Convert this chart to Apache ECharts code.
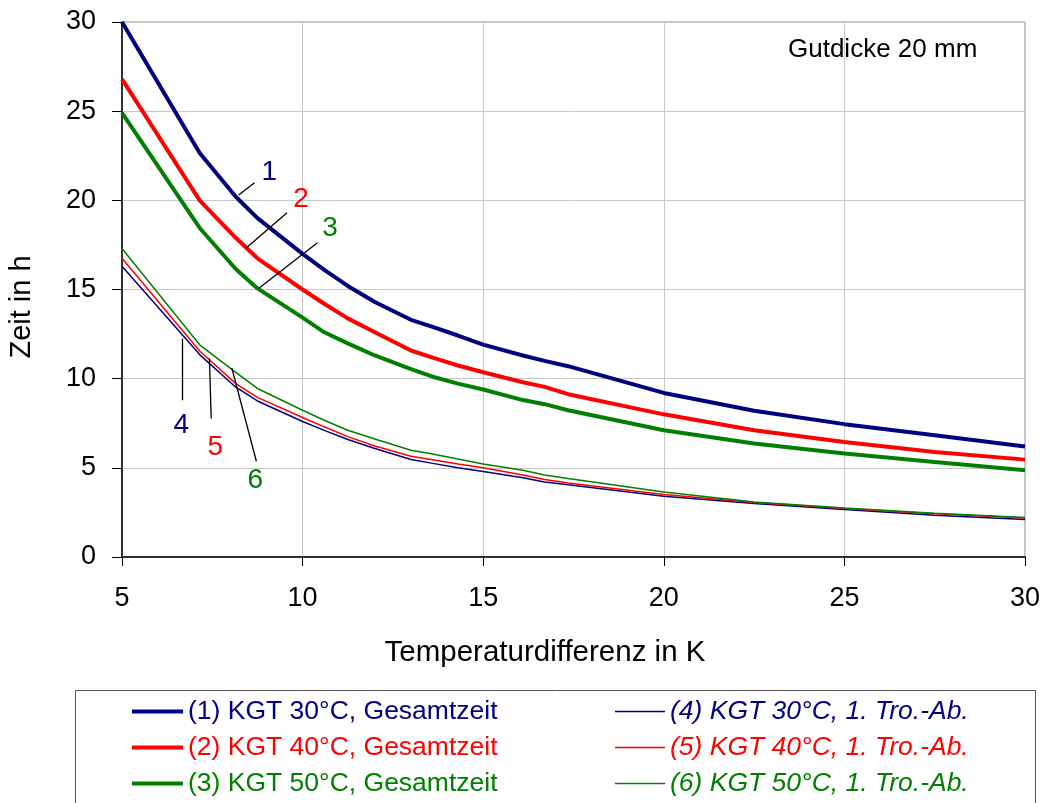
<!DOCTYPE html>
<html>
<head>
<meta charset="utf-8">
<title>Trocknungszeit über Temperaturdifferenz</title>
<script src="https://cdn.jsdelivr.net/npm/echarts@6/dist/echarts.min.js"></script>
<style>
  html, body { margin: 0; padding: 0; background: #fff; }
  #chart { width: 1046px; height: 803px; }
</style>
</head>
<body>
<div id="chart"></div>
<script>
// Temperaturdifferenz in K (shared sampling for all curves)
const tempDiff = [5, 7.15, 8.15, 8.75, 10, 10.6, 11.25, 12, 13, 13.6, 14.3, 15, 16.1, 16.7, 17.35, 20, 22.5, 25, 27.5, 30];

// Gesamtzeit in h
const kgt30Total = [30, 22.65, 20.2, 19.0, 17.0, 16.1, 15.2, 14.3, 13.3, 12.9, 12.42, 11.91, 11.3, 11.0, 10.7, 9.2, 8.2, 7.45, 6.83, 6.2];
const kgt40Total = [26.8, 20.0, 17.9, 16.75, 15.0, 14.2, 13.38, 12.6, 11.58, 11.18, 10.74, 10.36, 9.8, 9.54, 9.13, 8.0, 7.11, 6.45, 5.89, 5.46];
const kgt50Total = [24.9, 18.45, 16.15, 15.06, 13.42, 12.6, 11.98, 11.3, 10.54, 10.11, 9.72, 9.39, 8.8, 8.57, 8.23, 7.11, 6.36, 5.8, 5.33, 4.87];

// 1. Trocknungsabschnitt in h
const kgt30First = [16.3, 11.35, 9.52, 8.75, 7.6, 7.1, 6.59, 6.08, 5.47, 5.25, 5.0, 4.8, 4.45, 4.21, 4.05, 3.41, 3.0, 2.66, 2.34, 2.1];
const kgt40First = [16.75, 11.55, 9.72, 8.95, 7.82, 7.3, 6.75, 6.22, 5.65, 5.45, 5.22, 5.0, 4.6, 4.34, 4.15, 3.5, 3.06, 2.72, 2.42, 2.18];
const kgt50First = [17.3, 11.9, 10.35, 9.45, 8.23, 7.67, 7.11, 6.62, 5.99, 5.78, 5.5, 5.22, 4.87, 4.6, 4.4, 3.65, 3.09, 2.75, 2.45, 2.22];

const xTicks = [5, 10, 15, 20, 25, 30];
const yTicks = [0, 5, 10, 15, 20, 25, 30];

const seriesNames = [
  '(1) KGT 30°C, Gesamtzeit',
  '(2) KGT 40°C, Gesamtzeit',
  '(3) KGT 50°C, Gesamtzeit',
  '(4) KGT 30°C, 1. Tro.-Ab.',
  '(5) KGT 40°C, 1. Tro.-Ab.',
  '(6) KGT 50°C, 1. Tro.-Ab.'
];
const seriesValues = [kgt30Total, kgt40Total, kgt50Total, kgt30First, kgt40First, kgt50First];
const seriesColors = ['#000080', '#ff0000', '#008000', '#000080', '#ff0000', '#008000'];

// Callout numbers: label position and leader line (data coordinates)
const calloutText = ['1', '2', '3', '4', '5', '6'];
const calloutLabelAt = [[9.08, 21.6], [9.96, 20.07], [10.76, 18.44], [6.64, 7.39], [7.58, 6.16], [8.69, 4.3]];
const calloutLeader = [
  [[8.23, 20.3], [8.67, 20.99]],
  [[8.43, 17.31], [9.57, 19.3]],
  [[8.78, 15.06], [10.41, 17.62]],
  [[6.68, 12.25], [6.68, 8.79]],
  [[7.42, 11.13], [7.47, 7.77]],
  [[8.04, 10.6], [8.72, 5.37]]
];

const FONT = "'Liberation Sans', Arial, Helvetica, sans-serif";

const series = seriesNames.map((name, i) => ({
  name: name,
  type: 'line',
  data: tempDiff.map((x, k) => [x, seriesValues[i][k]]),
  showSymbol: false,
  symbol: 'none',
  smooth: false,
  lineStyle: { color: seriesColors[i], width: i < 3 ? 4 : 1.5 },
  itemStyle: { color: seriesColors[i] },
  z: i < 3 ? 3 : 4,
  markLine: {
    silent: true,
    symbol: ['none', 'none'],
    label: { show: false },
    lineStyle: { color: '#000', width: 1.3, type: 'solid' },
    emphasis: { disabled: true },
    data: [[{ coord: calloutLeader[i][0] }, { coord: calloutLeader[i][1] }]]
  },
  markPoint: {
    silent: true,
    symbol: 'circle',
    symbolSize: 0,
    data: [{ coord: calloutLabelAt[i] }],
    label: {
      show: true,
      position: 'inside',
      formatter: calloutText[i],
      color: seriesColors[i],
      fontSize: 28,
      fontFamily: FONT
    }
  }
}));

const legendEntry = (i, italic) => ({
  name: seriesNames[i],
  icon: 'rect',
  itemStyle: { color: seriesColors[i] },
  textStyle: { color: seriesColors[i], fontStyle: italic ? 'italic' : 'normal' }
});

const chart = echarts.init(document.getElementById('chart'), null, { renderer: 'canvas' });
chart.setOption({
  animation: false,
  backgroundColor: '#fff',
  textStyle: { fontFamily: FONT },
  grid: {
    left: 122, right: 21, top: 22, bottom: 246,
    show: true, borderColor: '#8c8c8c', borderWidth: 1, backgroundColor: 'transparent'
  },
  xAxis: {
    type: 'value',
    min: xTicks[0], max: xTicks[xTicks.length - 1], interval: 5,
    axisLine: { show: true, onZero: false, lineStyle: { color: '#000', width: 1.5 } },
    axisTick: { show: true, length: 9, lineStyle: { color: '#000' } },
    axisLabel: { margin: 28, fontSize: 27, color: '#000', fontFamily: FONT },
    splitLine: { show: true, lineStyle: { color: '#c8c8c8', width: 1 } }
  },
  yAxis: {
    type: 'value',
    min: yTicks[0], max: yTicks[yTicks.length - 1], interval: 5,
    axisLine: { show: true, onZero: false, lineStyle: { color: '#000', width: 1.5 } },
    axisTick: { show: true, length: 10, lineStyle: { color: '#000' } },
    axisLabel: { margin: 26, fontSize: 27, color: '#000', fontFamily: FONT },
    splitLine: { show: true, lineStyle: { color: '#c8c8c8', width: 1 } }
  },
  legend: [
    {
      orient: 'vertical', left: 132, top: 698, padding: 0,
      itemWidth: 51, itemHeight: 4, itemGap: 9,
      selectedMode: false,
      textStyle: { fontSize: 26.5, fontFamily: FONT },
      data: [legendEntry(0, false), legendEntry(1, false), legendEntry(2, false)]
    },
    {
      orient: 'vertical', left: 615, top: 698, padding: 0,
      itemWidth: 50, itemHeight: 1.5, itemGap: 9,
      selectedMode: false,
      textStyle: { fontSize: 26.5, fontFamily: FONT },
      data: [legendEntry(3, true), legendEntry(4, true), legendEntry(5, true)]
    }
  ],
  graphic: [
    {
      type: 'rect', silent: true, z: 0,
      shape: { x: 75.5, y: 690.5, width: 960, height: 130 },
      style: { fill: '#fff', stroke: '#555', lineWidth: 1 }
    },
    {
      type: 'text', silent: true,
      x: 545, y: 653,
      style: { text: 'Temperaturdifferenz in K', fontSize: 29.5, fontFamily: FONT, fill: '#000', align: 'center', verticalAlign: 'middle' }
    },
    {
      type: 'text', silent: true,
      x: 22, y: 307, rotation: Math.PI / 2,
      style: { text: 'Zeit in h', fontSize: 29, fontFamily: FONT, fill: '#000', align: 'center', verticalAlign: 'middle' }
    },
    {
      type: 'text', silent: true,
      x: 788, y: 50,
      style: { text: 'Gutdicke 20 mm', fontSize: 26, fontFamily: FONT, fill: '#000', align: 'left', verticalAlign: 'middle' }
    }
  ],
  series: series
});
</script>
</body>
</html>
